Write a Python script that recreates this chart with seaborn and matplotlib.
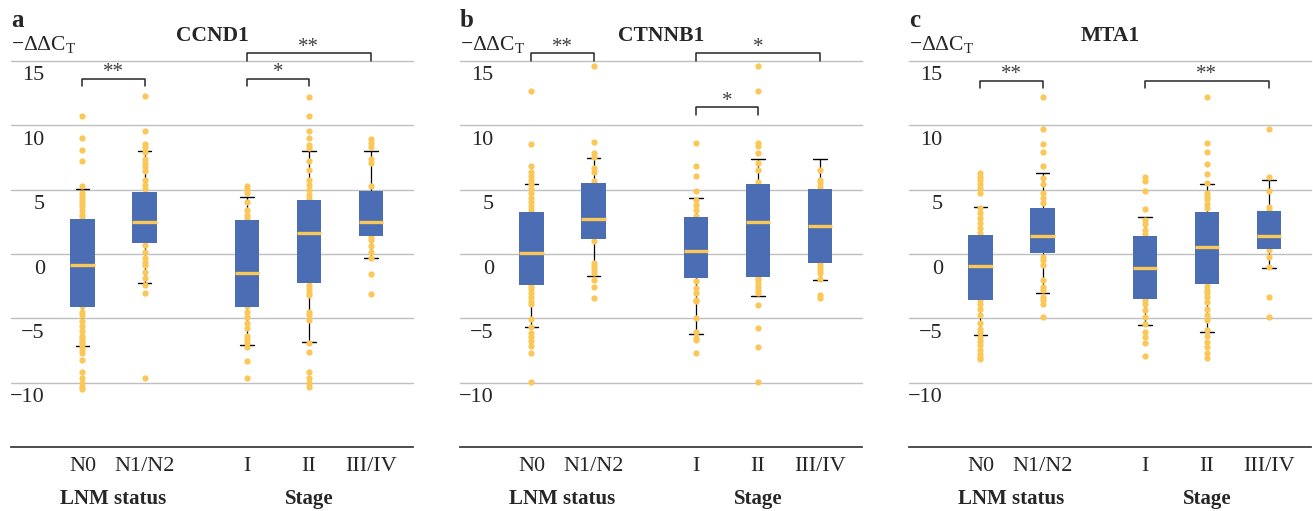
"""Relative expression (-ddCt) of CCND1, CTNNB1 and MTA1 by LNM status and stage."""

import matplotlib
matplotlib.use("Agg")
import matplotlib.pyplot as plt
import matplotlib.transforms as mtransforms
import numpy as np
import pandas as pd
import seaborn as sns

groups = ["N0", "N1/N2", "I", "II", "III/IV"]
genes = ["CCND1", "CTNNB1", "MTA1"]
panel_letters = ["a", "b", "c"]
ytick_values = [-10, -5, 0, 5, 10, 15]
ytick_labels = ["\u221210", "\u22125", "0", "5", "10", "15"]

# points visible outside the boxes
ccnd1_points = {
    "N0": [10.74, 8.98, 8.07, 7.22, 5.30, 4.71, 4.45, 4.2, 3.95, 3.7, 3.4, 3.1, 2.85,
           -4.01, -4.48, -4.74, -5.18, -5.59, -5.95, -6.37, -6.55, -6.73, -6.94, -7.2,
           -7.45, -7.66, -8.23, -9.14, -9.6, -10.04, -10.35, -10.5],
    "N1/N2": [12.27, 9.57, 8.54, 8.28, 7.9, 7.35, 7.04, 6.78, 6.47, 5.75, 5.36, 5.02,
              0.70, 0.18, -0.34, -0.6, -0.85, -1.37, -1.89, -2.41, -3.05, -9.65],
    "I": [5.30, 5.05, 4.71, 4.06, 3.42, 3.03, 2.77, -4.01, -4.48, -4.87, -5.36, -5.75,
          -6.37, -6.6, -6.9, -7.2, -8.28, -9.6],
    "II": [12.22, 10.74, 9.57, 8.98, 8.46, 8.25, 7.25, 6.52, 5.75, 5.36, 4.97, 4.58, 4.3,
           -2.41, -2.67, -2.93, -3.18, -4.48, -4.74, -5.12, -6.94, -7.58, -9.14, -9.65,
           -9.99, -10.3],
    "III/IV": [8.9, 8.59, 8.3, 7.35, 7.09, 5.28, 1.3, 1.09, 0.62, 0.13, -0.34, -1.55, -3.13],
}
ctnnb1_points = {
    "N0": [12.68, 8.51, 6.86, 6.39, 6.06, 5.75, 5.43, 5.02, 4.71, 4.37, 4.06, 3.73, 3.42,
           -2.5, -2.74, -3.05, -3.36, -3.62, -3.88, -5.07, -5.7, -6.11, -6.47, -6.73,
           -7.14, -7.71, -9.96],
    "N1/N2": [14.62, 8.67, 7.81, 7.56, 6.65, 6.39, 5.69, 1.03, -0.67, -0.93, -1.19, -1.5,
              -2.02, -2.54, -3.39],
    "I": [8.59, 6.86, 6.08, 4.92, 4.19, 3.8, 3.42, 2.95, -2.07, -2.67, -3.0, -3.57, -3.67,
          -4.99, -6.03, -6.55, -6.68, -7.71],
    "II": [14.62, 12.68, 8.59, 8.38, 7.81, 7.04, 6.52, 5.61, -1.9, -2.02, -2.28, -2.54,
           -2.8, -3.0, -3.96, -5.77, -7.2, -9.96],
    "III/IV": [6.52, 5.75, 5.54, 5.23, -0.78, -0.98, -1.24, -1.5, -1.97, -3.18, -3.44],
}
mta1_points = {
    "N0": [6.26, 6.0, 5.75, 5.43, 5.1, 4.76, 3.6, 3.16, 2.77, 2.38, 1.99, 1.65, -3.6,
           -3.88, -4.3, -4.74, -5.33, -5.85, -6.03, -6.47, -6.73, -7.07, -7.45, -7.76,
           -8.02, -8.18],
    "N1/N2": [12.22, 9.68, 8.54, 7.9, 6.83, 5.88, 5.43, 4.71, 4.32, 3.94, -0.21, -0.47,
              -0.85, -2.02, -2.54, -2.8, -3.31, -3.57, -3.88, -4.87],
    "I": [6.0, 5.67, 4.92, 3.49, 2.64, 2.33, 1.86, 1.53, -3.57, -3.88, -4.35, -4.87,
          -5.45, -6.03, -6.42, -6.89, -7.92],
    "II": [12.22, 8.59, 7.9, 6.96, 6.21, 5.49, 4.76, 4.45, 4.24, 3.88, 3.55, -2.49, -2.8,
           -3.0, -3.31, -3.7, -4.3, -4.74, -5.12, -5.9, -6.37, -6.8, -7.25, -7.71, -8.1],
    "III/IV": [9.68, 6.0, 4.92, 3.67, 3.42, 0.3, -0.25, -1.0, -3.36, -4.87],
}

# box statistics per group (order of `groups`)
ccnd1_whislo = [-7.14, -2.23, -7.04, -6.8, -0.34]
ccnd1_q1 = [-4.09, 0.88, -4.09, -2.28, 1.42]
ccnd1_med = [-0.88, 2.51, -1.45, 1.6, 2.46]
ccnd1_q3 = [2.72, 4.81, 2.64, 4.19, 4.89]
ccnd1_whishi = [5.05, 8.0, 4.40, 8.02, 8.0]

ctnnb1_whislo = [-5.64, -1.68, -6.24, -3.26, -2.02]
ctnnb1_q1 = [-2.41, 1.14, -1.84, -1.76, -0.72]
ctnnb1_med = [0.05, 2.72, 0.26, 2.51, 2.2]
ctnnb1_q3 = [3.26, 5.54, 2.87, 5.43, 5.02]
ctnnb1_whishi = [5.43, 7.48, 4.37, 7.35, 7.38]

mta1_whislo = [-6.29, -3.0, -5.51, -6.03, -1.06]
mta1_q1 = [-3.57, 0.05, -3.49, -2.36, 0.36]
mta1_med = [-0.91, 1.42, -1.11, 0.54, 1.4]
mta1_q3 = [1.48, 3.55, 1.4, 3.29, 3.34]
mta1_whishi = [3.67, 6.26, 2.85, 5.41, 5.75]

# significance brackets: (group a, group b, label)
ccnd1_sig = [("N0", "N1/N2", "**"), ("I", "II", "*"), ("I", "III/IV", "**")]
ccnd1_sig_y = [13.6, 13.6, 15.6]
ctnnb1_sig = [("N0", "N1/N2", "**"), ("I", "III/IV", "*"), ("I", "II", "*")]
ctnnb1_sig_y = [15.6, 15.6, 11.4]
mta1_sig = [("N0", "N1/N2", "**"), ("I", "III/IV", "**")]
mta1_sig_y = [13.45, 13.45]

panels = [
    (ccnd1_points, ccnd1_whislo, ccnd1_q1, ccnd1_med, ccnd1_q3, ccnd1_whishi, ccnd1_sig, ccnd1_sig_y),
    (ctnnb1_points, ctnnb1_whislo, ctnnb1_q1, ctnnb1_med, ctnnb1_q3, ctnnb1_whishi, ctnnb1_sig, ctnnb1_sig_y),
    (mta1_points, mta1_whislo, mta1_q1, mta1_med, mta1_q3, mta1_whishi, mta1_sig, mta1_sig_y),
]

BLUE = "#4A6DB3"
YELLOW = "#FBC757"
GRID = "#BFBFBF"
POS = [0, 1, 2.65, 3.65, 4.65]
W, H = 1313, 511

sns.set_theme(style="white")
plt.rcParams["font.family"] = ["Liberation Serif", "DejaVu Serif"]

fig = plt.figure(figsize=(W / 100, H / 100), dpi=100)
ax_lefts = [11, 460, 909]

for i, (pts, lo, q1, med, q3, hi, sig, sig_y) in enumerate(panels):
    ax = fig.add_axes([ax_lefts[i] / W, (H - 447.3) / H, 402 / W, 386.6 / H])

    df = pd.DataFrame([(POS[groups.index(g)], v) for g in groups for v in pts[g]],
                      columns=["pos", "value"])

    stats = [dict(whislo=lo[k], q1=q1[k], med=med[k], q3=q3[k], whishi=hi[k], fliers=[])
             for k in range(len(groups))]
    # whiskers + caps underneath the points
    ax.bxp(stats, positions=POS, widths=0.39, capwidths=0.22, showbox=False,
           showfliers=False, manage_ticks=False, zorder=1,
           whiskerprops=dict(color="black", linewidth=0.9),
           capprops=dict(color="black", linewidth=1.0),
           medianprops=dict(linewidth=0))
    sns.stripplot(data=df, x="pos", y="value", native_scale=True, orient="x",
                  jitter=False, color=YELLOW, size=4.5, linewidth=0, ax=ax, zorder=2)
    # boxes + medians on top
    ax.bxp(stats, positions=POS, widths=0.39, showcaps=False, showfliers=False,
           patch_artist=True, manage_ticks=False, zorder=3,
           boxprops=dict(facecolor=BLUE, edgecolor=BLUE, linewidth=0),
           whiskerprops=dict(linewidth=0),
           medianprops=dict(color=YELLOW, linewidth=2.4, solid_capstyle="butt"))

    ax.set_xlim(-1.153, 5.33)
    ax.set_ylim(-15, 15)
    ax.set_yticks(ytick_values)
    ax.yaxis.grid(True, color=GRID, linewidth=1.0)
    for gl in ax.get_ygridlines():
        gl.set_clip_on(False)
    ax.xaxis.grid(False)
    ax.set_axisbelow(True)
    ax.tick_params(axis="y", left=False, labelleft=False)
    ax.set_xticks(POS, groups)
    ax.tick_params(axis="x", length=0, pad=7, labelsize=16)
    ax.set_xlabel("")
    ax.set_ylabel("")
    for s in ["left", "right", "top"]:
        ax.spines[s].set_visible(False)
    ax.spines["bottom"].set_color("#404040")
    ax.spines["bottom"].set_linewidth(1.3)

    # y tick labels sit inside the plot, a little below their gridline
    ytrans = mtransforms.offset_copy(ax.get_yaxis_transform(), fig=fig, x=0, y=-15, units="dots")
    for v, lab in zip(ytick_values, ytick_labels):
        ax.text(0.084, v, lab, transform=ytrans, ha="right", va="center", fontsize=16)

    xtrans = ax.get_xaxis_transform()
    ax.text(np.mean(POS[:2]), -0.134, "LNM status", transform=xtrans, ha="center",
            va="center", fontsize=15, fontweight="bold")
    ax.text(POS[3], -0.134, "Stage", transform=xtrans, ha="center",
            va="center", fontsize=15, fontweight="bold")

    ax.set_title(genes[i], fontsize=15.5, fontweight="bold", pad=14.5)

    for (ga, gb, lab), y in zip(sig, sig_y):
        xa, xb = POS[groups.index(ga)], POS[groups.index(gb)]
        ax.plot([xa, xa, xb, xb], [y - 0.6, y, y, y - 0.6], color="#262626",
                linewidth=1.1, clip_on=False, zorder=4)
        ax.text((xa + xb) / 2, y + 0.1, lab, ha="center", va="baseline",
                fontsize=15, color="#404040", clip_on=False)

    fig.text(ax_lefts[i] / W, 1 - 26.7 / H, panel_letters[i], fontsize=18,
             fontweight="bold", va="baseline", ha="left")
    fig.text(ax_lefts[i] / W, 1 - 50 / H, "\u2212\u0394\u0394C$_\\mathregular{T}$",
             fontsize=15.5, va="baseline", ha="left")

fig.savefig("out.png", dpi=100)
plt.close(fig)
